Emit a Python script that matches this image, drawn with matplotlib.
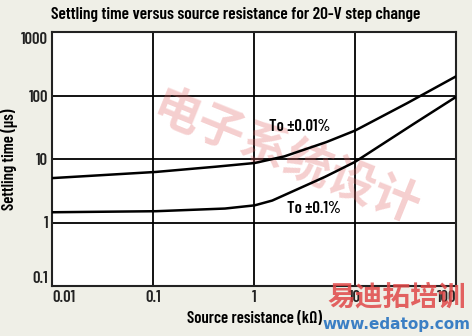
import matplotlib
matplotlib.use('Agg')
import matplotlib.pyplot as plt
import numpy as np

# data (log-log)
r_001 = [0.01, 0.1, 0.3, 1, 2, 5, 10, 30, 100]
t_001 = [5.0, 6.2, 7.2, 8.6, 11, 18, 28, 70, 200]
r_01 = [0.01, 0.1, 0.5, 1, 1.5, 2, 3, 5, 10, 30, 100]
t_01 = [1.45, 1.5, 1.65, 1.85, 2.2, 2.7, 3.6, 5.2, 9.0, 28, 95]
xticks = [0.01, 0.1, 1, 10, 100]
xlabels = ['0.01', '0.1', '1', '10', '100']
yticks = [0.1, 1, 10, 100, 1000]
ylabels = ['0.1', '1', '10', '100', '1000']

plt.rcParams['font.family'] = ['Barlow Condensed', 'DejaVu Sans']
plt.rcParams['font.weight'] = 600

bg = '#efefe7'
fig = plt.figure(figsize=(4.72, 3.36), dpi=100, facecolor=bg)
ax = fig.add_axes([52/472, 1 - 286/336, 404/472, 254/336])
ax.set_facecolor('white')

def smooth(xs, ys):
    lx = np.log10(xs)
    ly = np.log10(ys)
    xx = np.linspace(lx[0], lx[-1], 300)
    return 10**xx, 10**np.interp(xx, lx, ly)

ax.plot(*smooth(r_001, t_001), color='black', lw=1.8, zorder=3)
ax.plot(*smooth(r_01, t_01), color='black', lw=1.8, zorder=3)

ax.set_xscale('log')
ax.set_yscale('log')
ax.set_xlim(0.01, 100)
ax.set_ylim(0.1, 1000)
ax.set_xticks(xticks)
ax.set_xticklabels(xlabels)
ax.set_yticks(yticks)
ax.set_yticklabels(ylabels)
ax.minorticks_off()
ax.tick_params(length=0, labelsize=12, pad=3, colors='#222222')
# end labels sit inside the frame corners like the original
xt = ax.get_xticklabels()
xt[0].set_ha('left')
xt[-1].set_ha('right')
yt = ax.get_yticklabels()
yt[0].set_va('bottom')
yt[-1].set_va('top')
ax.grid(True, color='black', lw=1.3)
for s in ax.spines.values():
    s.set_linewidth(1.5)
    s.set_color('#222222')

ax.text(2.85, 33, 'To \u00b10.01%', fontsize=12, ha='center', va='center', zorder=4)
ax.text(3.9, 1.66, 'To \u00b10.1%', fontsize=12, ha='center', va='center', zorder=4)

ax.set_xlabel('Source resistance (k\u03a9)', fontsize=12, fontweight=600)
ax.xaxis.set_label_coords(0.5, -0.1)
ax.set_ylabel('Settling time (\u03bcs)', fontsize=12, fontweight=600)
ax.yaxis.set_label_coords(-0.085, 0.5)
fig.text(0.5, 1 - 14/336, 'Settling time versus source resistance for 20-V step change',
         ha='center', va='center', fontsize=12.5)

# watermarks
ax.text(0.58, 0.5, '电子系统设计', transform=ax.transAxes, fontsize=34,
        family=['Noto Sans CJK SC', 'DejaVu Sans'], color='#e06060', alpha=0.3,
        rotation=-22, ha='center', va='center', zorder=2)
fig.text(0.84, 1 - 298/336, '易迪拓培训', family=['Noto Sans CJK SC', 'DejaVu Sans'],
         fontsize=20, color='#e04848', ha='center', va='center', weight='bold', alpha=0.85)
fig.text(0.84, 1 - 325/336, 'www.edatop.com', family=['DejaVu Sans'],
         fontsize=11, color='#3b7fc4', ha='center', va='center', weight='bold')

fig.savefig('out.png', dpi=100, facecolor=bg)
